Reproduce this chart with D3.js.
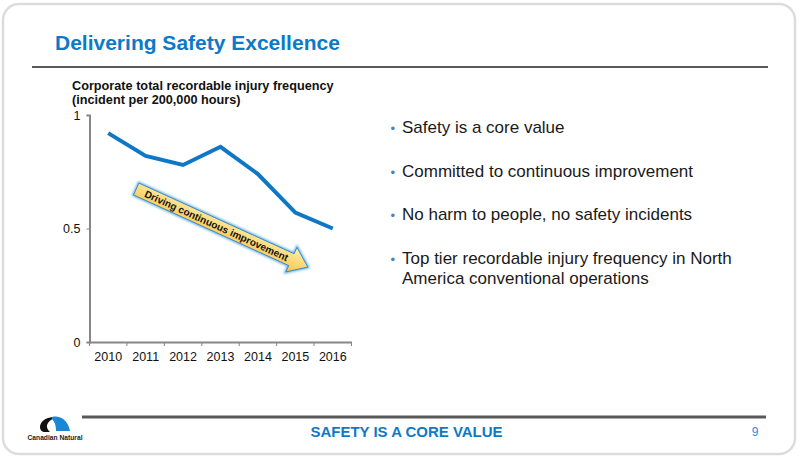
<!DOCTYPE html>
<html>
<head>
<meta charset="utf-8">
<script src="https://cdn.jsdelivr.net/npm/d3@7"></script>
<style>
  body { margin: 0; background: #fff; }
  svg { display: block; font-family: "Liberation Sans", Arial, sans-serif; }
</style>
</head>
<body>
<svg id="slide" width="800" height="457"></svg>
<script>
// Chart data
const years = ['2010', '2011', '2012', '2013', '2014', '2015', '2016'];
const trif = [0.92, 0.82, 0.78, 0.86, 0.74, 0.57, 0.50];
const yTicks = [0, 0.5, 1];
const yTickLabels = ['0', '0.5', '1'];
const bullets = [
  ['Safety is a core value'],
  ['Committed to continuous improvement'],
  ['No harm to people, no safety incidents'],
  ['Top tier recordable injury frequency in North', 'America conventional operations']
];

const svg = d3.select('#slide');
const blue = '#0d79c9';

// slide frame
svg.append('rect')
  .attr('x', 3).attr('y', 4).attr('width', 792).attr('height', 450)
  .attr('rx', 16).attr('ry', 16)
  .attr('fill', '#fff').attr('stroke', '#dcdcdc').attr('stroke-width', 2.5);

// title + rules
svg.append('text')
  .attr('x', 55).attr('y', 49.5)
  .attr('font-size', 21).attr('font-weight', 'bold').attr('fill', blue)
  .text('Delivering Safety Excellence');

svg.append('line')
  .attr('x1', 32).attr('x2', 768).attr('y1', 67).attr('y2', 67)
  .attr('stroke', '#595959').attr('stroke-width', 2);

svg.append('line')
  .attr('x1', 82).attr('x2', 766).attr('y1', 417).attr('y2', 417)
  .attr('stroke', '#595959').attr('stroke-width', 3);

svg.append('text')
  .attr('x', 406.5).attr('y', 436.5).attr('text-anchor', 'middle')
  .attr('font-size', 15).attr('font-weight', 'bold').attr('fill', blue)
  .attr('textLength', 192).attr('lengthAdjust', 'spacingAndGlyphs')
  .text('SAFETY IS A CORE VALUE');

svg.append('text')
  .attr('x', 755).attr('y', 435.5).attr('text-anchor', 'middle')
  .attr('font-size', 12).attr('fill', '#3a8ad6')
  .text('9');

// logo
const logo = svg.append('g');
logo.append('path')
  .attr('d', 'M55,417 C44,417 40,423 40,427 C40,430 42,432 45,432 L50,432 C47,429 46,426 48,423 C50,420 53,418 56,418 Z')
  .attr('fill', '#111');
logo.append('path')
  .attr('d', 'M52,417 C60,415 68,420 70,431 L56,431 C56,426 55,422 52,419 Z')
  .attr('fill', '#1a86d4');
logo.append('text')
  .attr('x', 55).attr('y', 440).attr('text-anchor', 'middle')
  .attr('font-size', 6.5).attr('font-weight', 'bold').attr('fill', '#222')
  .attr('textLength', 55).attr('lengthAdjust', 'spacingAndGlyphs')
  .text('Canadian Natural');

// chart title
svg.append('text')
  .attr('x', 72).attr('y', 89.5)
  .attr('font-size', 12.7).attr('font-weight', 'bold').attr('fill', '#111')
  .selectAll('tspan')
  .data(['Corporate total recordable injury frequency', '(incident per 200,000 hours)'])
  .enter().append('tspan')
  .attr('x', 72).attr('dy', (d, i) => i ? 14 : 0)
  .text(d => d);

// scales
const x = d3.scaleBand().domain(years).range([89.5, 351.5]);
const y = d3.scaleLinear().domain([0, 1]).range([342, 115]);

// x axis
const xAxis = svg.append('g')
  .attr('transform', 'translate(0,342)')
  .call(d3.axisBottom(x).tickSize(0).tickPadding(10));
xAxis.select('.domain').attr('stroke', '#868686').attr('stroke-width', 2);
xAxis.selectAll('text').attr('font-size', 12.5).attr('fill', '#111')
  .attr('font-family', '"Liberation Sans", Arial, sans-serif');
// ticks at category boundaries
svg.append('g')
  .selectAll('line')
  .data(years.concat(['end']))
  .enter().append('line')
  .attr('x1', (d, i) => i < years.length ? x(d) : x.range()[1])
  .attr('x2', (d, i) => i < years.length ? x(d) : x.range()[1])
  .attr('y1', 342).attr('y2', 346)
  .attr('stroke', '#868686').attr('stroke-width', 1);

// y axis
const yAxis = svg.append('g')
  .attr('transform', 'translate(89.5,0)')
  .call(d3.axisLeft(y).tickValues(yTicks).tickSize(3).tickPadding(6)
    .tickFormat((d, i) => yTickLabels[i]));
yAxis.select('.domain').attr('stroke', '#868686').attr('stroke-width', 2);
yAxis.selectAll('line').attr('stroke', '#868686');
yAxis.selectAll('text').attr('font-size', 12.5).attr('fill', '#111')
  .attr('font-family', '"Liberation Sans", Arial, sans-serif');

// data line
svg.append('path')
  .datum(trif)
  .attr('fill', 'none')
  .attr('stroke', '#0f78c6')
  .attr('stroke-width', 4)
  .attr('stroke-linejoin', 'miter')
  .attr('d', d3.line()
    .x((d, i) => x(years[i]) + x.bandwidth() / 2)
    .y(d => y(d)));

// annotation arrow
const defs = svg.append('defs');
const grad = defs.append('linearGradient')
  .attr('id', 'arrowGrad').attr('x1', 0).attr('y1', 0).attr('x2', 0).attr('y2', 1);
grad.append('stop').attr('offset', '0%').attr('stop-color', '#fff0b0');
grad.append('stop').attr('offset', '100%').attr('stop-color', '#f7c445');
const glow = defs.append('filter').attr('id', 'glow')
  .attr('x', '-10%').attr('y', '-50%').attr('width', '120%').attr('height', '200%');
glow.append('feGaussianBlur').attr('stdDeviation', 1.2);

const x0 = x('2010') + x.bandwidth() / 2 + 28, y0 = y(0.674);
const x1 = x('2016') + x.bandwidth() / 2 - 25, y1 = y(0.33);
const len = Math.hypot(x1 - x0, y1 - y0);
const ang = Math.atan2(y1 - y0, x1 - x0) * 180 / Math.PI;
const sw = 6.5, hw = 13.5, hl = 18;
const arrowPts = [[0, -sw], [len - hl, -sw], [len - hl, -hw], [len, 0], [len - hl, hw], [len - hl, sw], [0, sw]];
const ag = svg.append('g').attr('transform', `translate(${x0},${y0}) rotate(${ang})`);
ag.append('polygon')
  .attr('points', arrowPts.map(p => p.join(',')).join(' '))
  .attr('fill', 'none').attr('stroke', '#4aa3e6').attr('stroke-width', 3)
  .attr('filter', 'url(#glow)').attr('opacity', 0.8);
ag.append('polygon')
  .attr('points', arrowPts.map(p => p.join(',')).join(' '))
  .attr('fill', 'url(#arrowGrad)').attr('stroke', '#2c7fc4').attr('stroke-width', 0.8);
ag.append('text')
  .attr('x', (len - hl) / 2 + 3).attr('y', 3.6).attr('text-anchor', 'middle')
  .attr('font-size', 10).attr('font-weight', 'bold').attr('fill', '#111')
  .text('Driving continuous improvement');

// bullets
const by = [132.5, 176.5, 220, 264];
bullets.forEach((lines, i) => {
  svg.append('text')
    .attr('x', 390.5).attr('y', by[i])
    .attr('font-size', 13).attr('fill', '#4a7fbf')
    .text('\u2022');
  svg.append('text')
    .attr('y', by[i]).attr('font-size', 17).attr('fill', '#1a1a1a')
    .selectAll('tspan')
    .data(lines)
    .enter().append('tspan')
    .attr('x', 402).attr('dy', (d, j) => j ? 19.5 : 0)
    .text(d => d);
});
</script>
</body>
</html>
